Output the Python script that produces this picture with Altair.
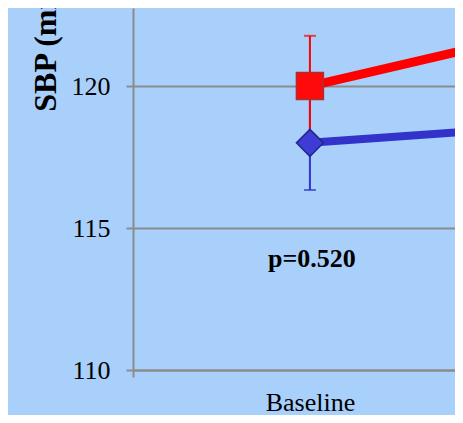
import altair as alt
import pandas as pd

# ---- data ----
visits = ["Baseline", "Follow-up"]
visit_pos = [0, 1]
groups = ["Group A", "Group B"]
red_mean = [120.0, 122.9]
red_se = [1.77, 1.8]
blue_mean = [118.0, 118.9]
blue_se = [1.66, 1.7]
p_labels = ["p=0.520"]
p_pos = [0]
p_y = [113.63]
y_ticks = [110, 115, 120]

rows = []
for g, means, ses in [(groups[1], blue_mean, blue_se), (groups[0], red_mean, red_se)]:
    for v, x, m, s in zip(visits, visit_pos, means, ses):
        rows.append(dict(group=g, visit=v, x=x, mean=m, lo=m - s, hi=m + s))
df = pd.DataFrame(rows)
pdf = pd.DataFrame({"x": p_pos, "y": p_y, "label": p_labels})

FONT = "Liberation Serif"
GRAY = "#8c8c8c"

xscale = alt.Scale(domain=[-0.5, 0.41], nice=False, zero=False)
yscale = alt.Scale(domain=[110, 122.75], nice=False, zero=False)

xaxis = alt.Axis(
    values=[-0.5, 0],
    labelExpr=f"datum.value == 0 ? '{visits[0]}' : ''",
    tickColor=alt.condition("datum.value == 0", alt.value("transparent"), alt.value(GRAY)),
    grid=False, domainColor=GRAY, domainWidth=2, tickSize=7, tickWidth=2,
    labelFont=FONT, labelFontSize=26, labelColor="black", labelBaseline="alphabetic",
    labelPadding=33, title="",
)
yaxis = alt.Axis(
    values=y_ticks, grid=True, gridColor=GRAY, gridWidth=2,
    domainColor=GRAY, domainWidth=2, tickColor=GRAY, tickSize=7, tickWidth=2,
    labelFont=FONT, labelFontSize=26, labelColor="black", labelPadding=16,
    title="SBP (mmHg)", titleFont=FONT, titleFontSize=32, titleFontWeight="bold",
    titleColor="black", titleAngle=270, titleX=-78, titleY=13,
    titleBaseline="alphabetic", titleAlign="center",
)

color = alt.Color("group:N", scale=alt.Scale(domain=groups, range=["#ff0000", "#3333cc"]), legend=None)

base = alt.Chart(df)
X = alt.X("x:Q", scale=xscale, axis=xaxis)

lines = base.mark_line().encode(
    x=X,
    y=alt.Y("mean:Q", scale=yscale, axis=yaxis),
    color=color,
    strokeWidth=alt.StrokeWidth("group:N", scale=alt.Scale(domain=groups, range=[9, 8]), legend=None),
    detail="group:N",
)
err = base.mark_rule(strokeWidth=2).encode(
    x=X, y=alt.Y("lo:Q", scale=yscale), y2="hi:Q", color=color
)
cap_hi = base.mark_tick(orient="horizontal", size=12, thickness=2).encode(
    x=X, y=alt.Y("hi:Q", scale=yscale), color=color
)
cap_lo = base.mark_tick(orient="horizontal", size=12, thickness=2).encode(
    x=X, y=alt.Y("lo:Q", scale=yscale), color=color
)
points = base.mark_point(filled=False, opacity=1, strokeWidth=1.5, size=729).encode(
    x=X, y=alt.Y("mean:Q", scale=yscale),
    shape=alt.Shape("group:N", scale=alt.Scale(domain=groups, range=["square", "diamond"]), legend=None),
    fill=alt.Fill("group:N", scale=alt.Scale(domain=groups, range=["#ff0a0a", "#3d3dd6"]), legend=None),
    stroke=alt.Stroke("group:N", scale=alt.Scale(domain=groups, range=["#a83232", "#25258f"]), legend=None),
)
ptext = alt.Chart(pdf).mark_text(
    font=FONT, fontSize=26, fontWeight="bold", baseline="alphabetic", align="center", dx=2, color="black"
).encode(x=alt.X("x:Q", scale=xscale), y=alt.Y("y:Q", scale=yscale), text="label:N")

chart = alt.layer(lines, err, cap_hi, cap_lo, points, ptext).properties(
    width=322, height=362,
    autosize=alt.AutoSizeParams(type="none"),
    padding={"left": 125, "top": 0, "right": 0, "bottom": 45},
    background="#a9d0fb",
).configure_view(stroke="transparent")

chart.save("out.html", embed_options={"renderer": "svg", "actions": False})
